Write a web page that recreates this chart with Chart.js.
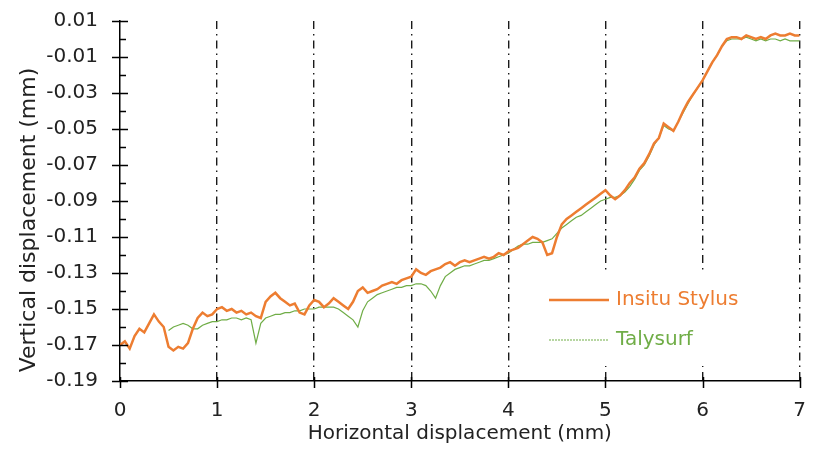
<!DOCTYPE html>
<html>
<head>
<meta charset="utf-8">
<script src="https://cdn.jsdelivr.net/npm/chart.js@4/dist/chart.umd.min.js"></script>
<style>
  body { margin: 0; background: #fff; }
</style>
</head>
<body>
<canvas id="myChart" width="824" height="449"></canvas>
<script>
// horizontal positions of the samples (mm)
const xs = [
  0.00, 0.05, 0.10, 0.15, 0.20, 0.25, 0.30, 0.35, 0.40, 0.45,
  0.50, 0.55, 0.60, 0.65, 0.70, 0.75, 0.80, 0.85, 0.90, 0.95,
  1.00, 1.05, 1.10, 1.15, 1.20, 1.25, 1.30, 1.35, 1.40, 1.45,
  1.50, 1.55, 1.60, 1.65, 1.70, 1.75, 1.80, 1.85, 1.90, 1.95,
  2.00, 2.05, 2.10, 2.15, 2.20, 2.25, 2.30, 2.35, 2.40, 2.45,
  2.50, 2.55, 2.60, 2.65, 2.70, 2.75, 2.80, 2.85, 2.90, 2.95,
  3.00, 3.05, 3.10, 3.15, 3.20, 3.25, 3.30, 3.35, 3.40, 3.45,
  3.50, 3.55, 3.60, 3.65, 3.70, 3.75, 3.80, 3.85, 3.90, 3.95,
  4.00, 4.05, 4.10, 4.15, 4.20, 4.25, 4.30, 4.35, 4.40, 4.45,
  4.50, 4.55, 4.60, 4.65, 4.70, 4.75, 4.80, 4.85, 4.90, 4.95,
  5.00, 5.05, 5.10, 5.15, 5.20, 5.25, 5.30, 5.35, 5.40, 5.45,
  5.50, 5.55, 5.60, 5.65, 5.70, 5.75, 5.80, 5.85, 5.90, 5.95,
  6.00, 6.05, 6.10, 6.15, 6.20, 6.25, 6.30, 6.35, 6.40, 6.45,
  6.50, 6.55, 6.60, 6.65, 6.70, 6.75, 6.80, 6.85, 6.90, 6.95,
  7.00
];

// vertical displacement (mm)
const insituStylus = [
  -0.170, -0.168, -0.172, -0.165, -0.161, -0.163, -0.158, -0.153, -0.157, -0.160,
  -0.171, -0.173, -0.171, -0.172, -0.169, -0.161, -0.155, -0.152, -0.154, -0.153,
  -0.150, -0.149, -0.151, -0.150, -0.152, -0.151, -0.153, -0.152, -0.154, -0.155,
  -0.146, -0.143, -0.141, -0.144, -0.146, -0.148, -0.147, -0.152, -0.153, -0.148,
  -0.145, -0.146, -0.149, -0.147, -0.144, -0.146, -0.148, -0.150, -0.146, -0.140,
  -0.138, -0.141, -0.140, -0.139, -0.137, -0.136, -0.135, -0.136, -0.134, -0.133,
  -0.132, -0.128, -0.130, -0.131, -0.129, -0.128, -0.127, -0.125, -0.124, -0.126,
  -0.124, -0.123, -0.124, -0.123, -0.122, -0.121, -0.122, -0.121, -0.119, -0.120,
  -0.118, -0.117, -0.116, -0.114, -0.112, -0.110, -0.111, -0.113, -0.120, -0.119,
  -0.110, -0.103, -0.100, -0.098, -0.096, -0.094, -0.092, -0.090, -0.088, -0.086,
  -0.084, -0.087, -0.089, -0.087, -0.084, -0.080, -0.077, -0.072, -0.069, -0.064,
  -0.058, -0.055, -0.047, -0.049, -0.051, -0.046, -0.040, -0.035, -0.031, -0.027,
  -0.023, -0.018, -0.013, -0.009, -0.004, 0.000, 0.001, 0.001, 0.000, 0.002,
  0.001, 0.000, 0.001, 0.000, 0.002, 0.003, 0.002, 0.002, 0.003, 0.002,
  0.002
];

const talysurf = [
  null, null, null, null, null, null, null, null, null, null,
  -0.162, -0.160, -0.159, -0.158, -0.159, -0.161, -0.161, -0.159, -0.158, -0.157,
  -0.157, -0.156, -0.156, -0.155, -0.155, -0.156, -0.155, -0.156, -0.169, -0.158,
  -0.155, -0.154, -0.153, -0.153, -0.152, -0.152, -0.151, -0.151, -0.150, -0.150,
  -0.150, -0.149, -0.149, -0.149, -0.149, -0.150, -0.152, -0.154, -0.156, -0.160,
  -0.151, -0.146, -0.144, -0.142, -0.141, -0.140, -0.139, -0.138, -0.138, -0.137,
  -0.137, -0.136, -0.136, -0.137, -0.140, -0.144, -0.137, -0.132, -0.130, -0.128,
  -0.127, -0.126, -0.126, -0.125, -0.124, -0.123, -0.123, -0.122, -0.121, -0.120,
  -0.119, -0.117, -0.115, -0.114, -0.114, -0.113, -0.113, -0.113, -0.112, -0.111,
  -0.108, -0.105, -0.103, -0.101, -0.099, -0.098, -0.096, -0.094, -0.092, -0.090,
  -0.089, -0.088, -0.088, -0.087, -0.085, -0.082, -0.078, -0.073, -0.070, -0.065,
  -0.059, -0.055, -0.048, -0.050, -0.051, -0.046, -0.041, -0.036, -0.031, -0.027,
  -0.023, -0.018, -0.013, -0.009, -0.004, -0.001, 0.000, 0.000, 0.000, 0.001,
  0.000, -0.001, 0.000, -0.001, 0.000, 0.000, -0.001, 0.000, -0.001, -0.001,
  -0.001
];

const xTicks = [0, 1, 2, 3, 4, 5, 6, 7];
const yTicks = [
  0.01, 0.00, -0.01, -0.02, -0.03, -0.04, -0.05, -0.06, -0.07, -0.08, -0.09,
  -0.10, -0.11, -0.12, -0.13, -0.14, -0.15, -0.16, -0.17, -0.18, -0.19
];
const yTickLabels = [
  "0.01", "-0.01", "-0.03", "-0.05", "-0.07", "-0.09",
  "-0.11", "-0.13", "-0.15", "-0.17", "-0.19"
];

const seriesNames = ["Insitu Stylus", "Talysurf"];
const yTitle = "Vertical displacement (mm)";
const orange = "#ed7d31";
const green = "#70ad47";

const toPoints = (ys) => xs.map((x, i) => ({ x: x, y: ys[i] }));
const isMajor = (v) => yTickLabels.includes(v.toFixed(2));

Chart.defaults.font.family = "'DejaVu Sans', sans-serif";
Chart.defaults.font.size = 20;
Chart.defaults.color = "#222";

// axis tick marks that cross the axis lines
const tickMarks = {
  id: "tickMarks",
  afterDraw(chart) {
    const { ctx, chartArea, scales } = chart;
    ctx.save();
    ctx.strokeStyle = "#000";
    ctx.lineWidth = 1.5;
    ctx.beginPath();
    yTicks.forEach((v) => {
      const y = Math.round(scales.y.getPixelForValue(v)) + 0.5;
      if (isMajor(v)) {
        ctx.moveTo(chartArea.left - 8, y);
        ctx.lineTo(chartArea.left + 8, y);
      } else {
        ctx.moveTo(chartArea.left, y);
        ctx.lineTo(chartArea.left + 6, y);
      }
    });
    xTicks.forEach((v) => {
      const x = Math.round(scales.x.getPixelForValue(v)) + 0.5;
      ctx.moveTo(x, chartArea.bottom - 4);
      ctx.lineTo(x, chartArea.bottom + 7);
    });
    ctx.stroke();

    // y title, sits a little below the middle of the axis
    ctx.translate(29, (chartArea.top + chartArea.bottom) / 2 + 19);
    ctx.rotate(-Math.PI / 2);
    ctx.fillStyle = "#222";
    ctx.font = "22px 'DejaVu Sans', sans-serif";
    ctx.textAlign = "center";
    ctx.textBaseline = "middle";
    ctx.fillText(yTitle, 0, 0);
    ctx.restore();
  },
};

// legend box inside the plot, lower right
const insideLegend = {
  id: "insideLegend",
  afterDraw(chart) {
    const { ctx, chartArea } = chart;
    const left = chartArea.left + 425;
    const top = chartArea.top + 253;
    ctx.save();
    ctx.fillStyle = "#fff";
    ctx.fillRect(left, top, 205, 92);
    const rows = [
      { text: seriesNames[0], color: orange, width: 2.5, dash: [] },
      { text: seriesNames[1], color: green, width: 1.2, dash: [2, 1] },
    ];
    rows.forEach((r, i) => {
      const y = top + 26 + i * 40;
      ctx.strokeStyle = r.color;
      ctx.lineWidth = r.width;
      ctx.setLineDash(r.dash);
      ctx.beginPath();
      ctx.moveTo(left + 4, y);
      ctx.lineTo(left + 64, y);
      ctx.stroke();
      ctx.setLineDash([]);
      ctx.fillStyle = r.color;
      ctx.font = "20px 'DejaVu Sans', sans-serif";
      ctx.textBaseline = "middle";
      ctx.fillText(r.text, left + 71, y);
    });
    ctx.restore();
  },
};

new Chart(document.getElementById("myChart"), {
  type: "line",
  data: {
    datasets: [
      {
        label: seriesNames[0],
        data: toPoints(insituStylus),
        borderColor: orange,
        borderWidth: 2.5,
        pointRadius: 0,
        tension: 0,
      },
      {
        label: seriesNames[1],
        data: toPoints(talysurf),
        borderColor: green,
        borderWidth: 1.2,
        pointRadius: 0,
        tension: 0,
        spanGaps: false,
      },
    ],
  },
  options: {
    responsive: false,
    animation: false,
    layout: { padding: { top: 21, right: 18, bottom: 0, left: 0 } },
    scales: {
      x: {
        type: "linear",
        min: 0,
        max: 7,
        afterBuildTicks: (scale) => {
          scale.ticks = xTicks.map((v) => ({ value: v }));
        },
        afterFit: (scale) => {
          scale.height = 68;
        },
        ticks: { padding: 18 },
        grid: {
          drawTicks: false,
          color: (c) => (c.tick && c.tick.value === 0 ? "rgba(0,0,0,0)" : "#1a1a1a"),
          lineWidth: 1.4,
        },
        border: { display: true, color: "#000", width: 1.5, dash: [8, 5, 1.5, 5] },
        title: {
          display: true,
          text: "Horizontal displacement (mm)",
          color: "#222",
          padding: { top: 0, bottom: 3 },
        },
      },
      y: {
        min: -0.19,
        max: 0.01,
        afterBuildTicks: (scale) => {
          scale.ticks = yTicks.map((v) => ({ value: v }));
        },
        afterFit: (scale) => {
          scale.width = 120;
        },
        ticks: {
          padding: 3,
          callback: (value) => (isMajor(value) ? value.toFixed(2) : ""),
        },
        grid: { display: false, drawTicks: true, tickLength: 19 },
        border: { display: true, color: "#000", width: 1.5 },
      },
    },
    plugins: {
      legend: { display: false },
      tooltip: { enabled: false },
    },
  },
  plugins: [tickMarks, insideLegend],
});
</script>
</body>
</html>
